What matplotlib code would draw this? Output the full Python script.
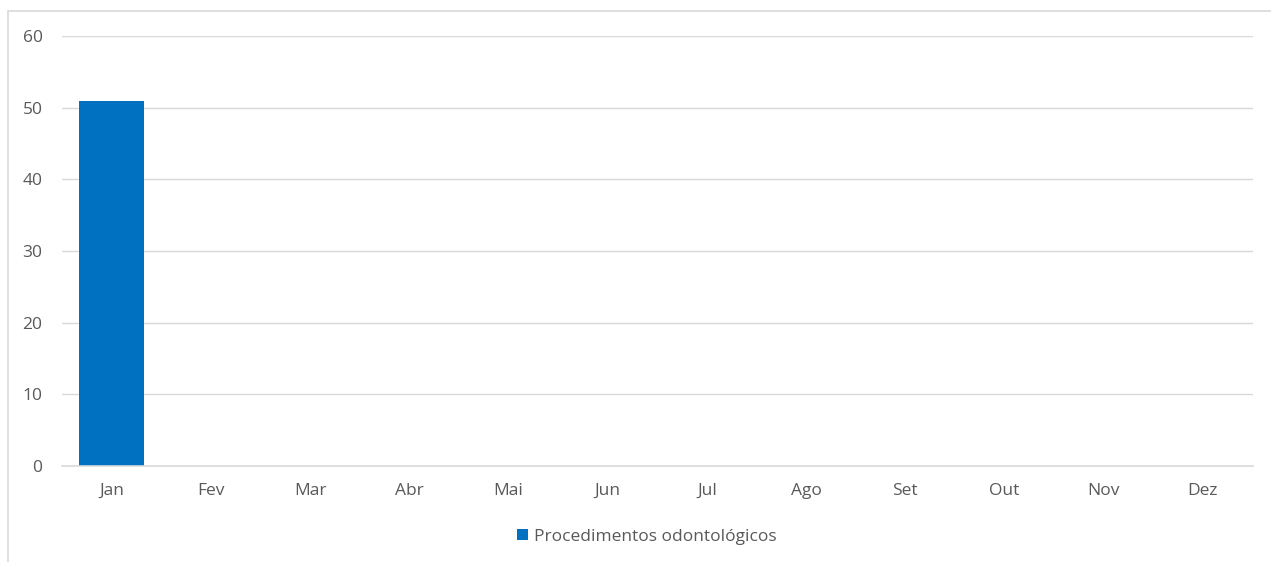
import matplotlib.pyplot as plt
from matplotlib.patches import Rectangle

meses = ["Jan", "Fev", "Mar", "Abr", "Mai", "Jun", "Jul", "Ago", "Set", "Out", "Nov", "Dez"]
procedimentos = [51, 0, 0, 0, 0, 0, 0, 0, 0, 0, 0, 0]
serie = "Procedimentos odontológicos"
yticks = [0, 10, 20, 30, 40, 50, 60]

plt.rcParams['font.family'] = ['Open Sans', 'DejaVu Sans']

fig = plt.figure(figsize=(12.71, 5.62), dpi=100)
ax = fig.add_axes([0.0488, 0.1708, 0.9367, 0.7651])

# chart border (cut off at right and bottom like the reference)
fig.patches.append(Rectangle((8/1271, -0.2), 1.2, 1.2 - 11/562,
                             transform=fig.transFigure, fill=False,
                             edgecolor='#d9d9d9', linewidth=1.2))

x = range(len(meses))
ax.bar(x, procedimentos, width=0.65, color='#0070c0', label=serie,
       linewidth=0, zorder=3)

ax.set_xlim(-0.5, len(meses) - 0.5)
ax.set_ylim(0, 60)
ax.set_yticks(yticks)
ax.set_xticks(list(x))
ax.set_xticklabels(meses)
ax.grid(axis='y', color='#d9d9d9', linewidth=1)
ax.axhline(0, color='#d9d9d9', linewidth=1.2, zorder=4, clip_on=False)
ax.set_axisbelow(True)
for s in ax.spines.values():
    s.set_visible(False)
ax.tick_params(length=0, colors='#595959', labelsize=12.5)
ax.tick_params(axis='x', pad=12)
ax.tick_params(axis='y', pad=14)

fig.legend(loc='center', bbox_to_anchor=(0.509, 0.0445), frameon=False,
           fontsize=12.5, labelcolor='#595959', handlelength=0.6,
           handleheight=0.6, handletextpad=0.35)

fig.savefig('out.png', dpi=100)
